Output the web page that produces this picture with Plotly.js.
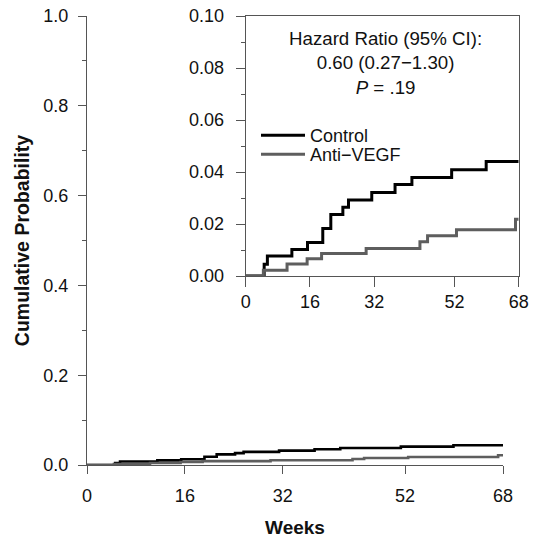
<!DOCTYPE html>
<html>
<head>
<meta charset="utf-8">
<script src="https://cdn.plot.ly/plotly-3.0.1.min.js"></script>
<style>html,body{margin:0;padding:0;background:#fff;}</style>
</head>
<body>
<div id="chart" style="width:539px;height:540px;"></div>
<script>
// Cumulative probability step data
const controlWeeks = [0, 4.6, 5.4, 11.5, 15.4, 19.2, 21.2, 24.2, 25.6, 31.4, 37.2, 41.4, 51.3, 59.9, 68];
const controlProb  = [0, 0.0045, 0.0077, 0.0102, 0.0129, 0.0183, 0.0237, 0.0264, 0.0292, 0.0321, 0.0352, 0.0379, 0.0409, 0.0440, 0.0440];
const antiWeeks    = [0, 4.4, 10.3, 15.3, 18.9, 30.0, 43.4, 45.3, 52.5, 67.2, 68];
const antiProb     = [0, 0.0022, 0.0046, 0.0066, 0.0087, 0.0106, 0.0132, 0.0155, 0.0178, 0.0218, 0.0218];
const xTicks = [0, 16, 32, 52, 68];
const mainYTicks = [0, 0.2, 0.4, 0.6, 0.8, 1.0];
const insetYTicks = [0, 0.02, 0.04, 0.06, 0.08, 0.10];
const seriesNames = ['Control', 'Anti\u2212VEGF'];
const annotationText = 'Hazard Ratio (95% CI):<br>0.60 (0.27\u22121.30)<br><i>P</i> = .19';

const BLACK = '#000000';
const GRAY = '#5e5e5e';
const AXIS = '#555555';
const FONT = 'Liberation Sans, Arial, sans-serif';

const traces = [
  {x: controlWeeks, y: controlProb, type: 'scatter', mode: 'lines', line: {shape: 'hv', color: BLACK, width: 2.6}, xaxis: 'x', yaxis: 'y', showlegend: false, name: seriesNames[0]},
  {x: antiWeeks, y: antiProb, type: 'scatter', mode: 'lines', line: {shape: 'hv', color: GRAY, width: 2.6}, xaxis: 'x', yaxis: 'y', showlegend: false, name: seriesNames[1]},
  {x: controlWeeks, y: controlProb, type: 'scatter', mode: 'lines', line: {shape: 'hv', color: BLACK, width: 3}, xaxis: 'x2', yaxis: 'y2', showlegend: true, legend: 'legend', name: seriesNames[0]},
  {x: antiWeeks, y: antiProb, type: 'scatter', mode: 'lines', line: {shape: 'hv', color: GRAY, width: 3}, xaxis: 'x2', yaxis: 'y2', showlegend: true, legend: 'legend2', name: seriesNames[1]}
];

const W = 539, H = 540, ml = 87, mr = 15, mt = 16, mb = 75;
const pw = W - ml - mr, ph = H - mt - mb;
const px = v => (v - ml) / pw;
const py = v => (H - mb - v) / ph;

const tickFont = {family: FONT, size: 18, color: '#111'};
const legendBase = {
  xanchor: 'left', yanchor: 'top',
  bgcolor: 'rgba(0,0,0,0)', borderwidth: 0,
  font: {family: FONT, size: 18, color: '#111'},
  itemwidth: 44
};

const layout = {
  width: W, height: H,
  margin: {l: ml, r: mr, t: mt, b: mb},
  paper_bgcolor: '#fff', plot_bgcolor: 'rgba(0,0,0,0)',
  font: {family: FONT, size: 18, color: '#111'},
  showlegend: true,
  legend: Object.assign({x: px(256), y: py(117)}, legendBase),
  legend2: Object.assign({x: px(256), y: py(136)}, legendBase),
  xaxis: {
    domain: [0, px(503)], range: [0, 68], anchor: 'y',
    tickvals: xTicks, ticks: 'outside', ticklen: 8, tickwidth: 1, tickcolor: AXIS,
    showline: true, linecolor: AXIS, linewidth: 1, showgrid: false, zeroline: false,
    tickfont: tickFont, ticklabelstandoff: 6,
    title: {text: '<b>Weeks</b>', font: {family: FONT, size: 19, color: '#111'}, standoff: 16}
  },
  yaxis: {
    domain: [0, 1], range: [0, 1], anchor: 'x',
    tickvals: mainYTicks, tickformat: '.1f', ticks: 'outside', ticklen: 8, tickwidth: 1, tickcolor: AXIS,
    minor: {dtick: 0.1, ticks: 'outside', ticklen: 4, tickcolor: AXIS, showgrid: false},
    showline: true, linecolor: AXIS, linewidth: 1, showgrid: false, zeroline: false,
    tickfont: tickFont, ticklabelstandoff: 6,
    title: {text: '<b>Cumulative Probability</b>', font: {family: FONT, size: 19.5, color: '#111'}, standoff: 8}
  },
  xaxis2: {
    domain: [px(245.7), px(518.7)], range: [0, 68], anchor: 'y2',
    tickvals: xTicks, ticks: 'outside', ticklen: 10, tickwidth: 1, tickcolor: AXIS,
    showline: true, mirror: true, linecolor: AXIS, linewidth: 1, showgrid: false, zeroline: false,
    tickfont: tickFont, ticklabelstandoff: -1
  },
  yaxis2: {
    domain: [py(276), 1], range: [0, 0.1], anchor: 'x2',
    tickvals: insetYTicks, tickformat: '.2f', ticks: 'outside', ticklen: 9, tickwidth: 1, tickcolor: AXIS,
    minor: {dtick: 0.01, ticks: 'outside', ticklen: 4, tickcolor: AXIS, showgrid: false},
    showline: true, mirror: true, linecolor: AXIS, linewidth: 1, showgrid: false, zeroline: false,
    tickfont: tickFont, ticklabelstandoff: 8
  },
  annotations: [{
    xref: 'paper', yref: 'paper', x: px(385), y: py(63), xanchor: 'center', yanchor: 'middle',
    text: annotationText, showarrow: false, align: 'center',
    font: {family: FONT, size: 18.7, color: '#111'}
  }]
};

Plotly.newPlot('chart', traces, layout, {staticPlot: true, displayModeBar: false});
</script>
</body>
</html>
